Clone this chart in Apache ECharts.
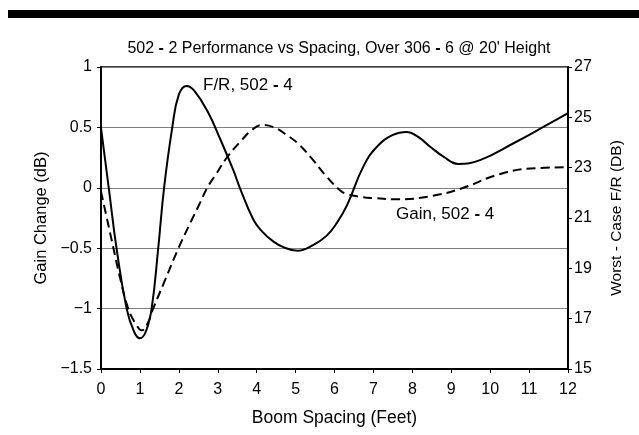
<!DOCTYPE html>
<html>
<head>
<meta charset="utf-8">
<script src="https://cdn.jsdelivr.net/npm/echarts@6/dist/echarts.min.js"></script>
<style>
  html, body { margin: 0; padding: 0; background: #fff; }
  #chart { width: 639px; height: 435px; }
</style>
</head>
<body>
<div id="chart"></div>
<script>
// F/R, 502-4 : boom spacing (feet) and worst-case F/R (right axis, dB)
var frSpacing = [0, 0.2, 0.4, 0.66, 0.85, 1.0, 1.15, 1.3, 1.47, 1.62, 1.83, 2.0, 2.2, 2.4, 2.75, 3.06, 3.4, 3.57, 3.92, 4.15, 4.4, 4.7, 5.05, 5.45, 5.8, 6.05, 6.32, 6.74, 7.09, 7.5, 7.86, 8.15, 8.46, 8.8, 9.18, 9.74, 10.6, 11.46, 12];
var frValues = [24.58, 22.19, 19.79, 17.39, 16.48, 16.22, 16.48, 17.39, 19.79, 22.19, 24.58, 25.9, 26.25, 26.05, 25.2, 24.15, 22.9, 22.19, 20.92, 20.45, 20.1, 19.83, 19.7, 19.92, 20.3, 20.78, 21.5, 23.04, 23.83, 24.3, 24.42, 24.22, 23.83, 23.44, 23.15, 23.3, 23.97, 24.7, 25.17];
// Gain, 502-4 : boom spacing (feet) and gain change (left axis, dB)
var gainSpacing = [0, 0.32, 0.5, 0.7, 0.9, 1.05, 1.2, 1.34, 1.6, 1.99, 2.33, 2.545, 2.73, 2.93, 3.25, 3.62, 3.85, 4.13, 4.45, 4.77, 5.05, 5.37, 5.8, 6.14, 6.3, 6.66, 7.0, 7.6, 8.46, 9.31, 10.17, 11.03, 12];
var gainValues = [-0.03, -0.5, -0.76, -1.0, -1.13, -1.18, -1.12, -1.0, -0.8, -0.5, -0.267, -0.125, 0.0, 0.1, 0.257, 0.396, 0.47, 0.52, 0.5, 0.437, 0.37, 0.26, 0.092, -0.02, -0.05, -0.074, -0.085, -0.095, -0.07, 0.0, 0.106, 0.16, 0.17];

var FONT = "Liberation Sans, Arial, sans-serif";

function pairs(xs, ys) {
  return xs.map(function (x, i) { return [x, ys[i]]; });
}
function minusSign(v) {
  return String(v).replace("-", "\u2212");
}

var myChart = echarts.init(document.getElementById("chart"));
myChart.setOption({
  animation: false,
  backgroundColor: "#fff",
  title: {
    text: "502 {b|-} 2 Performance vs Spacing, Over 306 {b|-} 6 @ 20' Height",
    left: 334,
    textAlign: "center",
    top: 36,
    textStyle: {
      fontFamily: FONT, fontSize: 16, fontWeight: "normal", color: "#000",
      rich: { b: { fontFamily: FONT, fontSize: 16, fontWeight: "bold", color: "#000" } }
    }
  },
  graphic: [
    { type: "rect", shape: { x: 8, y: 10, width: 631, height: 8 }, style: { fill: "#000" } },
    {
      type: "text", left: 203, top: 77,
      style: {
        text: "F/R, 502 {b|-} 4", font: "17px " + FONT, fill: "#000",
        rich: { b: { fontFamily: FONT, fontSize: 17, fontWeight: "bold", fill: "#000" } }
      }
    },
    {
      type: "text", left: 396, top: 206,
      style: {
        text: "Gain, 502 {b|-} 4", font: "17px " + FONT, fill: "#000",
        rich: { b: { fontFamily: FONT, fontSize: 17, fontWeight: "bold", fill: "#000" } }
      }
    }
  ],
  grid: {
    left: 101, right: 71, top: 67, bottom: 66,
    show: true, borderColor: "#000", borderWidth: 1.5, backgroundColor: "transparent"
  },
  xAxis: {
    type: "value",
    min: 0, max: 12, interval: 1,
    name: "Boom Spacing (Feet)",
    nameLocation: "middle",
    nameGap: 40,
    nameTextStyle: { fontFamily: FONT, fontSize: 17.5, color: "#000" },
    axisLine: { onZero: false, lineStyle: { color: "#000", width: 2 } },
    axisTick: { length: 4, lineStyle: { color: "#000" } },
    axisLabel: { fontFamily: FONT, fontSize: 16, color: "#000", margin: 13 },
    splitLine: { show: false }
  },
  yAxis: [
    {
      type: "value",
      min: -1.5, max: 1, interval: 0.5,
      name: "Gain Change (dB)",
      nameLocation: "middle",
      nameGap: 51,
      nameTextStyle: { fontFamily: FONT, fontSize: 16.5, color: "#000" },
      axisLine: { show: true, onZero: false, lineStyle: { color: "#000", width: 2 } },
      axisTick: { show: true, length: 4, lineStyle: { color: "#000" } },
      axisLabel: { fontFamily: FONT, fontSize: 16, color: "#000", margin: 9, formatter: minusSign },
      splitLine: { show: true, lineStyle: { color: "#7f7f7f", width: 1 } }
    },
    {
      type: "value",
      min: 15, max: 27, interval: 2,
      name: "Worst - Case F/R (DB)",
      nameLocation: "middle",
      nameGap: 41,
      nameTextStyle: { fontFamily: FONT, fontSize: 15.5, color: "#000" },
      axisLine: { show: true, onZero: false, lineStyle: { color: "#000", width: 2 } },
      axisTick: { show: true, length: 4, lineStyle: { color: "#000" } },
      axisLabel: { fontFamily: FONT, fontSize: 16, color: "#000", margin: 6 },
      splitLine: { show: false }
    }
  ],
  series: [
    {
      name: "F/R, 502 - 4",
      type: "line",
      yAxisIndex: 1,
      data: pairs(frSpacing, frValues),
      smooth: 0.45,
      showSymbol: false,
      lineStyle: { color: "#000", width: 2 }
    },
    {
      name: "Gain, 502 - 4",
      type: "line",
      yAxisIndex: 0,
      data: pairs(gainSpacing, gainValues),
      smooth: 0.45,
      showSymbol: false,
      lineStyle: { color: "#000", width: 2, type: [9, 5] }
    }
  ]
});
</script>
</body>
</html>
